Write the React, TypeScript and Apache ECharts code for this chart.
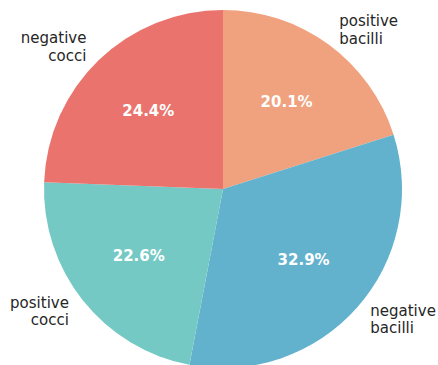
import React, { useEffect, useRef } from "react";
import * as echarts from "echarts";

const categories = ["positive\nbacilli", "negative\nbacilli", "positive\ncocci", "negative\ncocci"];
const values = [20.1, 32.9, 22.6, 24.4];
const colors = ["#F0A17E", "#63B2CD", "#75C9C4", "#EA736E"];

export default function App() {
  const ref = useRef<HTMLDivElement>(null);
  useEffect(() => {
    document.body.style.margin = "0";
    const chart = echarts.init(ref.current!, null, { renderer: "svg" });
    const R = 179;
    const center = [223, 189];
    const textStyle = {
      fontFamily: "DejaVu Sans",
      fontSize: 15,
      lineHeight: 17.5,
      color: "#262626",
    };
    const common = {
      type: "pie",
      center,
      startAngle: 90,
      clockwise: true,
      avoidLabelOverlap: false,
      silent: true,
      labelLayout: { hideOverlap: false },
    };
    // each line of a two-line name is drawn by its own label so that it
    // keeps the side alignment (right on the left half, left on the right half)
    const lineLabel = (lineIndex: number) => ({
      show: true,
      position: "outside",
      formatter: (p: any) => {
        const lines = String(p.name).split("\n");
        return lineIndex === 0 ? lines[0] + "\n " : " \n" + lines[1];
      },
      ...textStyle,
      distanceToLabelLine: 0,
    });
    const outerLine = { show: false, length: R * 0.1, length2: 0 };
    chart.setOption({
      animation: false,
      series: [
        {
          ...common,
          radius: [0, R],
          itemStyle: { borderWidth: 0 },
          label: lineLabel(0),
          labelLine: outerLine,
          data: categories.map((name, i) => ({
            name,
            value: values[i],
            itemStyle: { color: colors[i] },
          })),
        },
        {
          ...common,
          radius: [0, R],
          itemStyle: { color: "transparent", borderWidth: 0 },
          label: lineLabel(1),
          labelLine: outerLine,
          data: categories.map((name, i) => ({ name, value: values[i] })),
        },
        {
          ...common,
          radius: [R * 0.17, R],
          itemStyle: { color: "transparent", borderWidth: 0 },
          label: {
            show: true,
            position: "inside",
            formatter: (p: any) => p.value.toFixed(1) + "%",
            fontFamily: "DejaVu Sans",
            fontSize: 15,
            fontWeight: "bold",
            color: "#ffffff",
          },
          labelLine: { show: false },
          data: categories.map((name, i) => ({ name, value: values[i] })),
        },
      ],
    });
    return () => chart.dispose();
  }, []);
  return <div ref={ref} style={{ width: 438, height: 365 }} />;
}
